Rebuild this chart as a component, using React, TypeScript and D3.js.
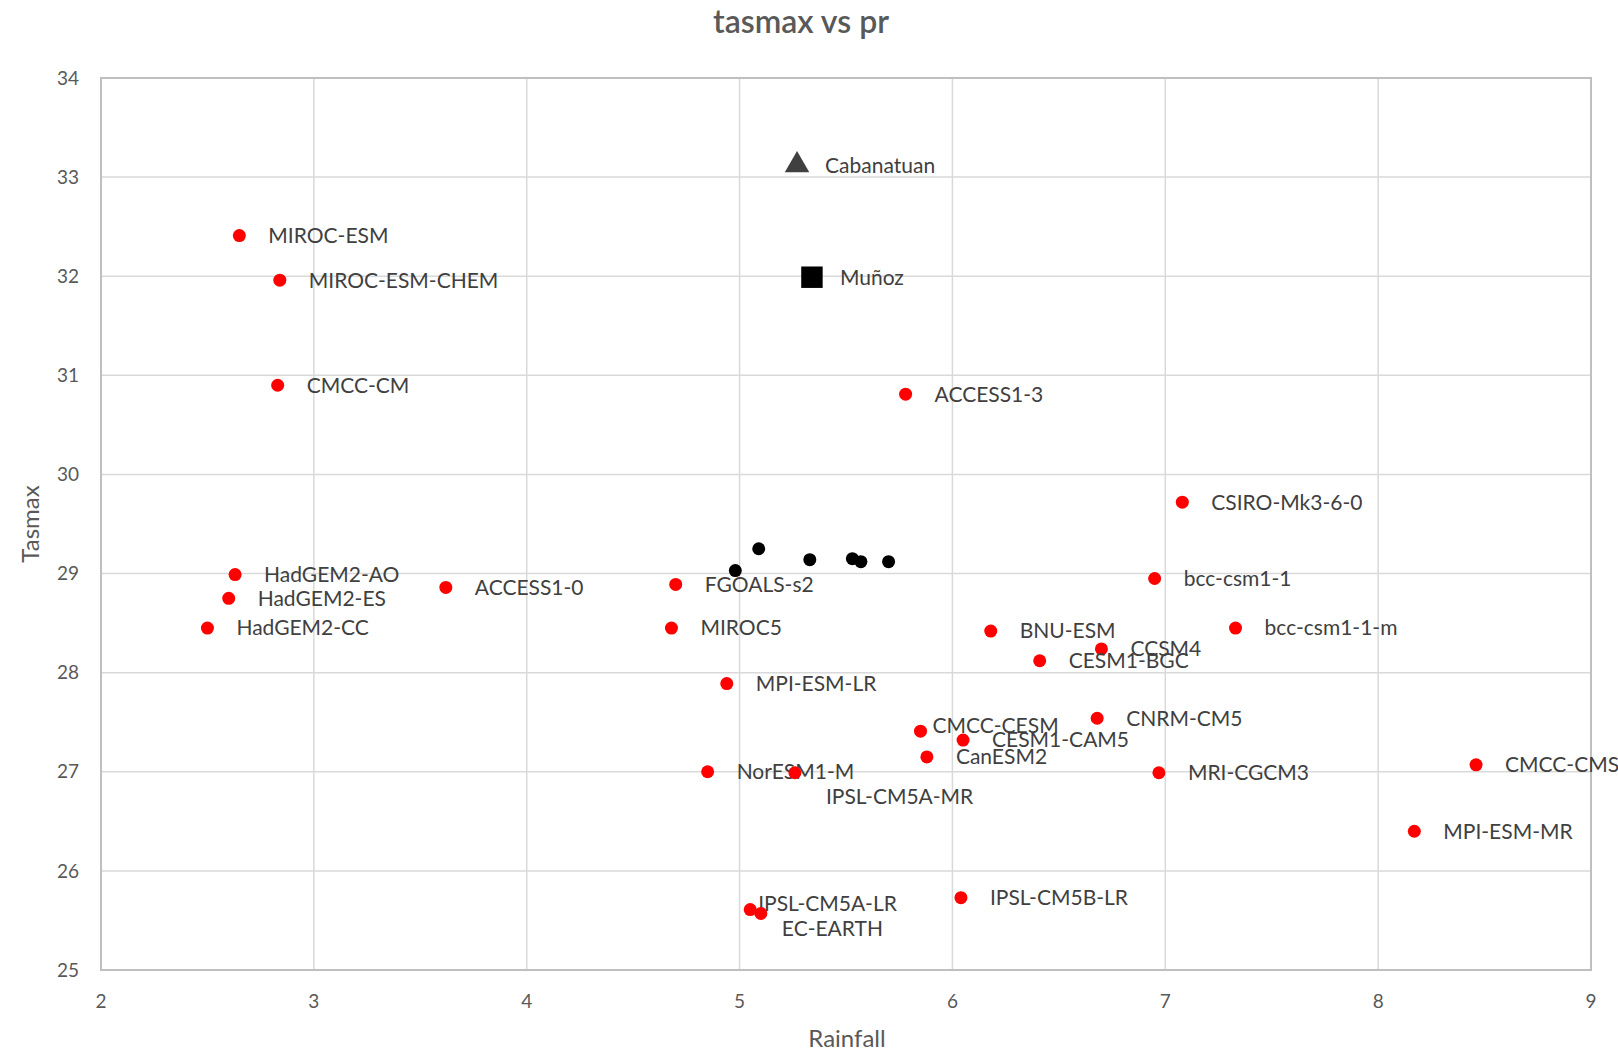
import React from "react";
import * as d3 from "d3";

// GCM models (red points)
const modelNames = [
  "MIROC-ESM", "MIROC-ESM-CHEM", "CMCC-CM", "ACCESS1-3", "CSIRO-Mk3-6-0",
  "bcc-csm1-1", "bcc-csm1-1-m", "HadGEM2-AO", "HadGEM2-ES", "HadGEM2-CC",
  "ACCESS1-0", "FGOALS-s2", "MIROC5", "BNU-ESM", "CCSM4", "CESM1-BGC",
  "MPI-ESM-LR", "CMCC-CESM", "CESM1-CAM5", "CanESM2", "CNRM-CM5",
  "NorESM1-M", "IPSL-CM5A-MR", "MRI-CGCM3", "CMCC-CMS", "MPI-ESM-MR",
  "IPSL-CM5A-LR", "EC-EARTH", "IPSL-CM5B-LR",
];
const modelPr = [
  2.65, 2.84, 2.83, 5.78, 7.08,
  6.95, 7.33, 2.63, 2.60, 2.50,
  3.62, 4.70, 4.68, 6.18, 6.70, 6.41,
  4.94, 5.85, 6.05, 5.88, 6.68,
  4.85, 5.26, 6.97, 8.46, 8.17,
  5.05, 5.10, 6.04,
];
const modelTasmax = [
  32.41, 31.96, 30.90, 30.81, 29.72,
  28.95, 28.45, 28.99, 28.75, 28.45,
  28.86, 28.89, 28.45, 28.42, 28.24, 28.12,
  27.89, 27.41, 27.32, 27.15, 27.54,
  27.00, 26.99, 26.99, 27.07, 26.40,
  25.61, 25.57, 25.73,
];

// unlabelled black points
const obsPr = [4.98, 5.09, 5.33, 5.53, 5.57, 5.70];
const obsTasmax = [29.03, 29.25, 29.14, 29.15, 29.12, 29.12];

// stations
const stationNames = ["Cabanatuan", "Muñoz"];
const stationPr = [5.27, 5.34];
const stationTasmax = [33.12, 31.99];
const stationShapes = [d3.symbolTriangle, d3.symbolSquare];
const stationColors = ["#404040", "#000000"];

const xTicks = [2, 3, 4, 5, 6, 7, 8, 9];
const yTicks = [25, 26, 27, 28, 29, 30, 31, 32, 33, 34];

// labels moved by hand in the original
const labelNudge: Record<string, [number, number]> = {
  "IPSL-CM5A-MR": [31, 24],
  "EC-EARTH": [21, 15],
  "IPSL-CM5A-LR": [8, -6],
  "CMCC-CESM": [12, -6],
};

const width = 1618;
const height = 1053;
const margin = { top: 78, right: 27, bottom: 83, left: 101 };
const font = "Lato, 'Open Sans', sans-serif";

export default function App() {
  const x = d3.scaleLinear().domain([2, 9]).range([margin.left, width - margin.right]);
  const y = d3.scaleLinear().domain([25, 34]).range([height - margin.bottom, margin.top]);

  const models = modelNames.map((name, i) => ({ name, pr: modelPr[i], t: modelTasmax[i] }));

  return (
    <svg
      width={width}
      height={height}
      style={{ position: "absolute", left: 0, top: 0, background: "#fff" }}
      fontFamily={font}
    >
      <text x={801} y={33} textAnchor="middle" fontSize={32} fontWeight={600} fill="#595959">
        tasmax vs pr
      </text>

      {/* grid */}
      {xTicks.map(t => (
        <line key={"gx" + t} x1={x(t)} x2={x(t)} y1={y(25)} y2={y(34)} stroke="#d9d9d9" strokeWidth={1.5} />
      ))}
      {yTicks.map(t => (
        <line key={"gy" + t} x1={x(2)} x2={x(9)} y1={y(t)} y2={y(t)} stroke="#d9d9d9" strokeWidth={1.5} />
      ))}
      <rect
        x={x(2)}
        y={y(34)}
        width={x(9) - x(2)}
        height={y(25) - y(34)}
        fill="none"
        stroke="#bfbfbf"
        strokeWidth={2}
      />

      {/* tick labels */}
      {xTicks.map(t => (
        <text key={"tx" + t} x={x(t)} y={y(25) + 38} textAnchor="middle" fontSize={19} fill="#595959">
          {t}
        </text>
      ))}
      {yTicks.map(t => (
        <text key={"ty" + t} x={x(2) - 22} y={y(t)} dy="0.35em" textAnchor="end" fontSize={19} fill="#595959">
          {t}
        </text>
      ))}

      <text x={847} y={1047} textAnchor="middle" fontSize={24} fill="#595959">
        Rainfall
      </text>
      <text transform="translate(31, 524) rotate(-90)" textAnchor="middle" dy="0.35em" fontSize={24} fill="#595959">
        Tasmax
      </text>

      {/* black points */}
      {obsPr.map((p, i) => (
        <circle key={"o" + i} cx={x(p)} cy={y(obsTasmax[i])} r={6.5} fill="#000" />
      ))}

      {/* stations */}
      {stationNames.map((name, i) => (
        <g key={name} transform={`translate(${x(stationPr[i])}, ${y(stationTasmax[i])})`}>
          <path d={d3.symbol().type(stationShapes[i]).size(i === 0 ? 260 : 460)()!} fill={stationColors[i]} />
          <text x={28} dy="0.35em" fontSize={21} fill="#404040">
            {name}
          </text>
        </g>
      ))}

      {/* models */}
      {models.map(m => {
        const [dx, dy] = labelNudge[m.name] ?? [29, 0];
        return (
          <g key={m.name} transform={`translate(${x(m.pr)}, ${y(m.t)})`}>
            <circle r={6.5} fill="#ff0000" />
            <text x={dx} y={dy} dy="0.35em" fontSize={21} fill="#404040">
              {m.name}
            </text>
          </g>
        );
      })}
    </svg>
  );
}
